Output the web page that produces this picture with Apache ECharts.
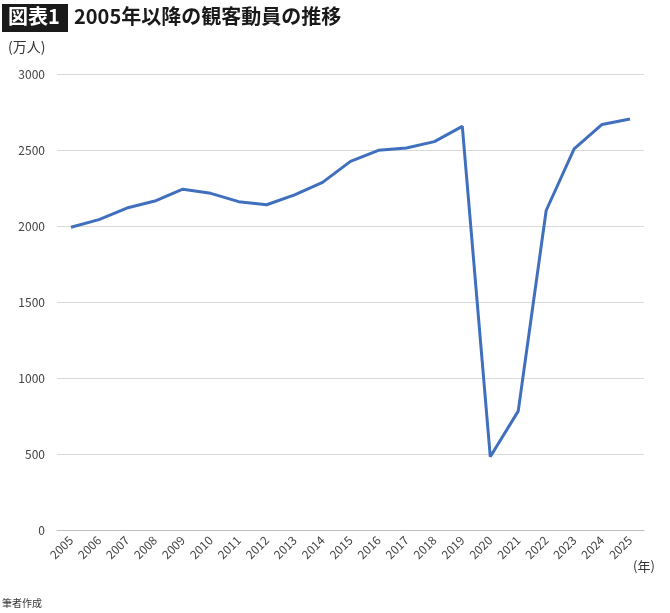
<!DOCTYPE html>
<html><head><meta charset="utf-8">
<script src="https://cdn.jsdelivr.net/npm/echarts@6/dist/echarts.min.js"></script>
<style>html,body{margin:0;padding:0;background:#fff}#c{width:670px;height:613px}</style>
</head><body><div id="c"></div>
<script>
const years = ['2005','2006','2007','2008','2009','2010','2011','2012','2013','2014','2015','2016','2017','2018','2019','2020','2021','2022','2023','2024','2025'];
const attendance = [1992,2042,2118,2164,2242,2215,2160,2140,2205,2287,2425,2498,2513,2555,2655,482,782,2102,2508,2668,2704];
const yTicks = [0,500,1000,1500,2000,2500,3000];
const F = '"Noto Sans CJK JP","Noto Sans",sans-serif';
const chart = echarts.init(document.getElementById('c'));
chart.setOption({
  animation:false,
  textStyle:{fontFamily:F},
  graphic:[
    {type:'rect',left:2,top:4,shape:{width:66,height:28},style:{fill:'#1a1a1a'}},
    {type:'text',left:8,top:6,style:{text:'図表1',fill:'#fff',font:'bold 20px '+F}},
    {type:'text',left:74,top:6,style:{text:'2005年以降の観客動員の推移',fill:'#1a1a1a',font:'bold 20px '+F}},
    {type:'text',left:8,top:40,style:{text:'(万人)',fill:'#333',font:'14px '+F}},
    {type:'text',left:633,top:560,style:{text:'(年)',fill:'#333',font:'13px '+F}},
    {type:'text',left:2,top:598,style:{text:'筆者作成',fill:'#333',font:'10px '+F}}
  ],
  grid:{left:57,right:26,top:74,bottom:83,containLabel:false},
  xAxis:{type:'category',data:years,boundaryGap:true,
    axisLine:{lineStyle:{color:'#bfbfbf'}},axisTick:{show:false},
    axisLabel:{rotate:45,color:'#444',fontSize:12,margin:8}},
  yAxis:{type:'value',min:yTicks[0],max:yTicks[yTicks.length-1],interval:500,
    axisLine:{show:false},axisTick:{show:false},
    axisLabel:{color:'#444',fontSize:12,margin:12,formatter:v=>String(v)},
    splitLine:{lineStyle:{color:'#d9d9d9'}}},
  series:[{type:'line',data:attendance,symbol:'none',
    lineStyle:{color:'#4070bd',width:3}}]
});
</script></body></html>
